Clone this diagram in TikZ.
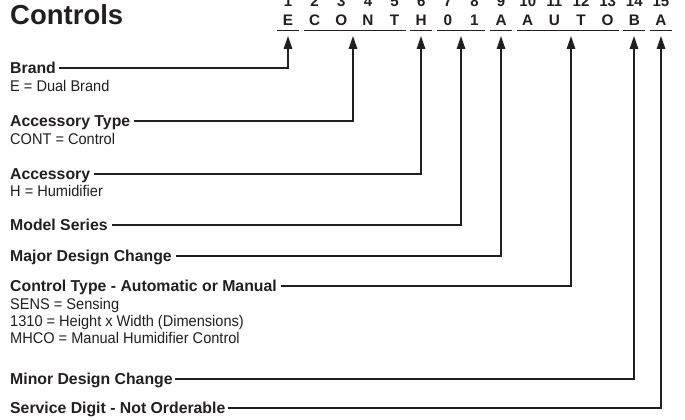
\documentclass[tikz,border=0pt]{standalone}
\usepackage{fontspec}
\setmainfont{Liberation Sans}
\newfontfamily\condfont[FakeStretch=0.94]{Liberation Sans}
\usetikzlibrary{arrows.meta}
\definecolor{ink}{HTML}{231F20}
\begin{document}
\begin{tikzpicture}[x=1pt,y=-1pt,
  lbl/.style={inner sep=0pt, anchor=base west, font=\fontsize{15.8}{18}\selectfont\bfseries, text=ink},
  desc/.style={inner sep=0pt, anchor=base west, font=\condfont\fontsize{15.5}{18}\selectfont, text=ink},
  code/.style={inner sep=0pt, anchor=base, font=\fontsize{15.3}{18}\selectfont\bfseries, text=ink},
  num/.style={inner sep=0pt, anchor=base, font=\fontsize{15}{18}\selectfont\bfseries, text=ink},
  uline/.style={draw=ink, line width=1pt},
  conn/.style={draw=ink, line width=1.4pt, -{Triangle[length=13pt,width=8.5pt]}},
]
\fill[white] (0,0) rectangle (685,420);
\useasboundingbox (0,0) rectangle (685,420);
% title
\node[inner sep=0pt, anchor=base west, font=\fontsize{27.5}{30}\selectfont\bfseries, text=ink] (title) at (10,25) {Controls};
% code letters and position numbers
\foreach \ch [count=\i] in {E,C,O,N,T,H,0,1,A,A,U,T,O,B,A} {
  \node[code] (c\i) at ({288+26.64*(\i-1)},26) {\ch};
  \node[num] (n\i) at ({288+26.64*(\i-1)},7) {\i};
}
% underlines of the groups
\foreach \a/\b in {1/1,2/5,6/6,7/8,9/9,10/13,14/14,15/15}
  \draw[uline] ({288+26.64*(\a-1)-11},30.5) -- ({288+26.64*(\b-1)+11},30.5);
% arrow tips
\coordinate (tE) at (288,36);
\coordinate (tCONT) at (353,36);
\coordinate (tH) at (421,36);
\coordinate (tNum) at (461,36);
\coordinate (tA) at (501,36);
\coordinate (tAUTO) at (571,36);
\coordinate (tB) at (634,36);
\coordinate (tA2) at (661,36);
% labels
\node[lbl] (brand) at (10,73.6) {Brand};
\node[desc] (dbrand) at (10,91.5) {E = Dual Brand};
\node[lbl] (acct) at (10,126.6) {Accessory Type};
\node[desc] (dacct) at (10,144.5) {CONT = Control};
\node[lbl] (acc) at (10,179.6) {Accessory};
\node[desc] (dacc) at (10,196.5) {H = Humidifier};
\node[lbl] (model) at (10,230.6) {Model Series};
\node[lbl] (major) at (10,261.6) {Major Design Change};
\node[lbl] (ctype) at (10,291.6) {Control Type - Automatic or Manual};
\node[desc] (dc1) at (10,309.5) {SENS = Sensing};
\node[desc] (dc2) at (10,326.5) {1310 = Height x Width (Dimensions)};
\node[desc] (dc3) at (10,343.5) {MHCO = Manual Humidifier Control};
\node[lbl] (minor) at (10,384.6) {Minor Design Change};
\node[lbl] (serv) at (10,413.6) {Service Digit - Not Orderable};
% connectors
\draw[conn] ([xshift=3pt,yshift=5.6pt]brand.base east) -| (tE);
\draw[conn] ([xshift=4pt,yshift=5.6pt]acct.base east) -| (tCONT);
\draw[conn] ([xshift=4pt,yshift=5.6pt]acc.base east) -| (tH);
\draw[conn] ([xshift=4pt,yshift=5.6pt]model.base east) -| (tNum);
\draw[conn] ([xshift=4pt,yshift=5.6pt]major.base east) -| (tA);
\draw[conn] ([xshift=4pt,yshift=5.6pt]ctype.base east) -| (tAUTO);
\draw[conn] ([xshift=2pt,yshift=5.6pt]minor.base east) -| (tB);
\draw[conn] ([xshift=2pt,yshift=5.6pt]serv.base east) -| (tA2);
\end{tikzpicture}
\end{document}
